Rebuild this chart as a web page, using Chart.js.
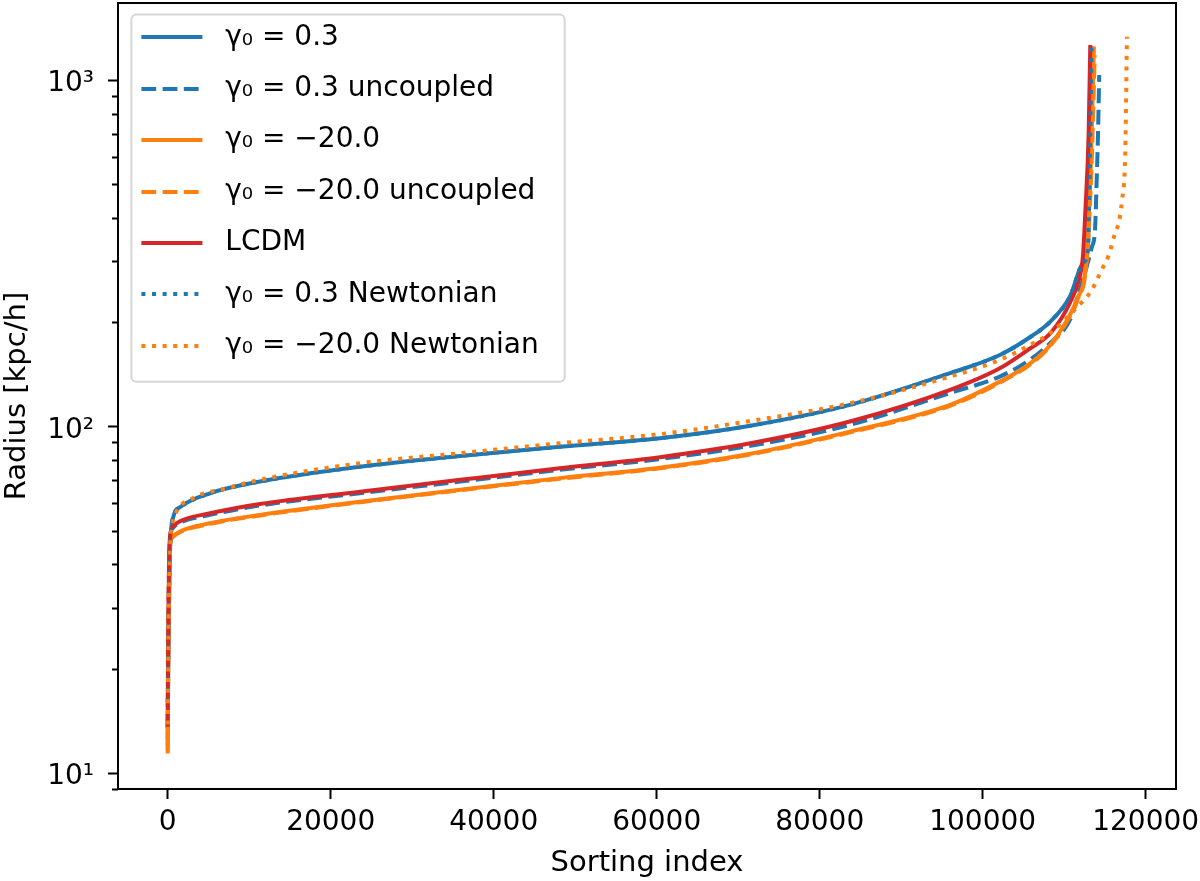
<!DOCTYPE html>
<html>
<head>
<meta charset="utf-8">
<script src="https://cdn.jsdelivr.net/npm/chart.js@4.4.0/dist/chart.umd.min.js"></script>
<style>
  html, body { margin: 0; padding: 0; background: #fff; }
  #wrap { width: 1200px; height: 881px; }
</style>
</head>
<body>
<div id="wrap"><canvas id="radii" width="1200" height="881"></canvas></div>
<script>
// sorted halo radii: x = sorting index, y = radius [kpc/h]
const seriesNames = ['γ₀ = 0.3', 'γ₀ = 0.3 uncoupled', 'γ₀ = −20.0', 'γ₀ = −20.0 uncoupled',
                     'LCDM', 'γ₀ = 0.3 Newtonian', 'γ₀ = −20.0 Newtonian'];

const xG03 = [0, 60, 150, 300, 700, 1500, 5190, 11300, 23600, 35900, 48100, 60400, 71500, 83700, 96000, 102100, 105800, 108300, 110700, 112300, 112900, 113100, 113400];
const yG03 = [12.5, 20, 30, 45, 55, 58.5, 64.2, 69.4, 76.6, 82.3, 87.5, 92.6, 100.6, 115.5, 142.6, 160.9, 181, 200.8, 237.1, 296, 323, 500, 1247];

const xG03unc = [0, 50, 150, 280, 650, 1500, 5190, 11300, 23600, 35900, 48100, 60400, 71500, 83700, 96000, 102100, 105800, 108300, 110700, 111530, 112300, 112760, 113400, 113780, 113990, 114150, 114300];
const yG03unc = [13.5, 22, 37.5, 47.5, 51, 52.8, 55.6, 59.2, 64.2, 69.4, 75, 80.6, 88, 101.1, 125, 139.4, 156, 174.3, 203, 232, 265, 289, 330, 369, 515, 700, 1034];

const xG20 = [0, 50, 150, 280, 650, 1500, 5190, 11300, 23600, 35900, 48100, 60400, 71500, 83700, 96000, 102100, 105800, 108300, 110700, 111530, 112760, 113300, 113650];
const yG20 = [11.4, 20, 35, 45, 48.2, 49.8, 52.6, 55.6, 60.7, 65.7, 71.0, 76.1, 83.5, 96.7, 115.5, 134.8, 152, 172, 210, 232, 309, 600, 1250];

const xG20unc = [0, 50, 150, 280, 650, 1500, 5190, 11300, 23600, 35900, 48100, 60400, 71500, 83700, 96000, 102100, 105800, 108300, 110700, 111600, 112800, 113350, 113750];
const yG20unc = [11.6, 20, 35, 45, 48.1, 49.6, 52.4, 55.4, 60.5, 65.5, 70.7, 75.8, 83.1, 96.2, 114.8, 133.9, 151, 171, 208, 231, 308, 560, 1180];

const xLCDM = [0, 50, 150, 280, 650, 1500, 5190, 11300, 23600, 35900, 48100, 60400, 71500, 83700, 96000, 102100, 105800, 108300, 110700, 111900, 112300, 112600, 113000, 113200];
const yLCDM = [13.6, 22, 38, 48, 51.5, 53.3, 56.2, 59.8, 64.9, 70.2, 75.8, 81.6, 89.5, 103.4, 127.6, 147.3, 168, 185.9, 227.3, 270, 310, 420, 700, 1262];

const xG03newt = [0, 60, 150, 300, 700, 1500, 5190, 11300, 23600, 35900, 48100, 60400, 71500, 83700, 96000, 102100, 105800, 108300, 110700, 112300, 112900, 113100, 113350];
const yG03newt = [16, 22, 31, 45, 55, 58.5, 64.2, 69.4, 76.6, 82.3, 87.5, 92.6, 100.6, 115.5, 142.6, 160.9, 181, 200.8, 237.1, 296, 323, 500, 1240];

const xG20newt = [0, 100, 300, 500, 900, 3100, 7240, 11300, 23600, 35900, 48100, 60400, 71500, 83700, 96000, 102100, 105800, 108300, 111500, 113400, 114000, 114800, 115400, 116000, 117100, 117500, 117700];
const yG20newt = [12, 25, 45, 51, 55.6, 62.1, 66.4, 70.2, 78.4, 83.8, 89.5, 95.1, 103.8, 116.8, 139.4, 155.7, 172, 186.3, 220, 247.9, 264.9, 289.3, 309.3, 345.5, 450.7, 628, 1333];

const xTicks = [0, 20000, 40000, 60000, 80000, 100000, 120000];
const yTicks = [10, 100, 1000];
const yTickLabels = ['10¹', '10²', '10³'];
const yMinorTicks = [];
[1, 10, 100, 1000].forEach(d => { for (let m = 2; m <= 9; m++) yMinorTicks.push(m * d); });

const blue = '#1f77b4', orange = '#ff7f0e', red = '#d62728';
const dashed = [14.8, 6.4], dotted = [4, 6.6];

const zip = (xs, ys) => xs.map((x, i) => ({x: x, y: ys[i]}));

const seriesData = [zip(xG03, yG03), zip(xG03unc, yG03unc), zip(xG20, yG20), zip(xG20unc, yG20unc),
                    zip(xLCDM, yLCDM), zip(xG03newt, yG03newt), zip(xG20newt, yG20newt)];
const seriesColors = [blue, blue, orange, orange, red, blue, orange];
const seriesDash = [[], dashed, [], dashed, [], dotted, dotted];

const LEGEND_FONT = 28;
const HANDLE_LEN = 61;

Chart.defaults.font.family = 'DejaVu Sans';
Chart.defaults.font.size = 28;
Chart.defaults.color = '#000';

// matplotlib style: full box round the axes + short minor ticks on the log axis
const frameAndMinorTicks = {
  id: 'frameAndMinorTicks',
  afterDraw(chart) {
    const {ctx, chartArea: a, scales: {y}} = chart;
    ctx.save();
    ctx.strokeStyle = '#000';
    ctx.lineWidth = 2;
    ctx.beginPath();
    yMinorTicks.forEach(v => {
      if (v < y.min || v > y.max) return;
      const py = Math.round(y.getPixelForValue(v)) + 0.5;
      ctx.moveTo(a.left - 6, py);
      ctx.lineTo(a.left, py);
    });
    ctx.stroke();
    ctx.strokeRect(a.left, a.top, a.right - a.left, a.bottom - a.top);
    ctx.restore();
  }
};

// legend box behind the legend, and dashed/dotted sample lines on top of it
const legendFrame = {
  id: 'legendFrame',
  beforeDraw(chart) {
    const boxes = chart.legend && chart.legend.legendHitBoxes;
    if (!boxes || !boxes.length) return;
    const first = boxes[0], last = boxes[boxes.length - 1];
    const left = first.left - 10;
    const top = first.top - 9;
    const right = Math.max(...boxes.map(b => b.left + b.width)) + 26;
    const bottom = last.top + last.height + 22;
    const ctx = chart.ctx;
    ctx.save();
    ctx.beginPath();
    ctx.roundRect(left, top, right - left, bottom - top, 5);
    ctx.fillStyle = '#fff';
    ctx.fill();
    ctx.strokeStyle = '#d6d6d6';
    ctx.lineWidth = 2;
    ctx.stroke();
    ctx.restore();
  },
  afterDraw(chart) {
    const legend = chart.legend;
    if (!legend || !legend.legendHitBoxes) return;
    const ctx = chart.ctx;
    ctx.save();
    legend.legendItems.forEach((item, i) => {
      const hb = legend.legendHitBoxes[i];
      const ds = chart.data.datasets[item.datasetIndex];
      const cy = Math.round(hb.top + LEGEND_FONT / 2);
      ctx.beginPath();
      ctx.setLineDash(ds.borderDash);
      ctx.lineCap = 'butt';
      ctx.lineWidth = ds.borderWidth;
      ctx.strokeStyle = ds.borderColor;
      ctx.moveTo(hb.left, cy);
      ctx.lineTo(hb.left + HANDLE_LEN, cy);
      ctx.stroke();
    });
    ctx.restore();
  }
};

new Chart(document.getElementById('radii'), {
  type: 'line',
  data: {
    datasets: seriesData.map((d, i) => ({
      label: seriesNames[i],
      data: d,
      borderColor: seriesColors[i],
      backgroundColor: seriesColors[i],
      borderDash: seriesDash[i],
      borderWidth: 4,
      pointRadius: 0,
      fill: false,
      cubicInterpolationMode: 'monotone',
      order: seriesData.length - 1 - i
    }))
  },
  options: {
    responsive: false,
    maintainAspectRatio: false,
    animation: false,
    events: [],
    layout: { padding: { top: 3, right: 24, left: 0, bottom: 0 } },
    plugins: {
      tooltip: { enabled: false },
      legend: {
        position: 'chartArea',
        align: 'start',
        labels: {
          usePointStyle: true,
          pointStyle: 'line',
          pointStyleWidth: HANDLE_LEN,
          padding: 51.4 - LEGEND_FONT,
          color: '#000',
          font: { size: LEGEND_FONT },
          sort: (a, b) => a.datasetIndex - b.datasetIndex,
          generateLabels(chart) {
            const items = Chart.defaults.plugins.legend.labels.generateLabels(chart);
            items.forEach(it => {
              it.text = ' ' + it.text;
              it.lineWidth = 0;
              it.strokeStyle = 'rgba(0,0,0,0)';
              it.fillStyle = 'rgba(0,0,0,0)';
            });
            return items;
          }
        }
      }
    },
    scales: {
      x: {
        type: 'linear',
        min: -6100,
        max: 123720,
        afterBuildTicks(scale) { scale.ticks = xTicks.map(v => ({value: v})); },
        afterFit(scale) { scale.height = 92; scale.paddingLeft = 0; scale.paddingRight = 0; },
        ticks: { padding: 7, maxRotation: 0, autoSkip: false, callback: v => String(v) },
        grid: { display: true, drawOnChartArea: false, drawTicks: true, tickLength: 10, tickWidth: 2, tickColor: '#000' },
        border: { display: false },
        title: { display: true, text: 'Sorting index', font: { size: 29 }, padding: { top: 0, bottom: 0 } }
      },
      y: {
        type: 'logarithmic',
        min: 9.0,
        max: 1668,
        afterBuildTicks(scale) { scale.ticks = yTicks.map(v => ({value: v})); },
        afterFit(scale) { scale.width = 118; scale.paddingTop = 0; scale.paddingBottom = 0; },
        ticks: { padding: 14, labelOffset: 4, autoSkip: false,
                 callback: v => yTickLabels[yTicks.indexOf(v)] },
        grid: { display: true, drawOnChartArea: false, drawTicks: true, tickLength: 10, tickWidth: 2, tickColor: '#000' },
        border: { display: false },
        title: { display: true, text: 'Radius [kpc/h]', font: { size: 29 }, padding: { top: 0, bottom: 0 } }
      }
    }
  },
  plugins: [legendFrame, frameAndMinorTicks]
});
</script>
</body>
</html>
